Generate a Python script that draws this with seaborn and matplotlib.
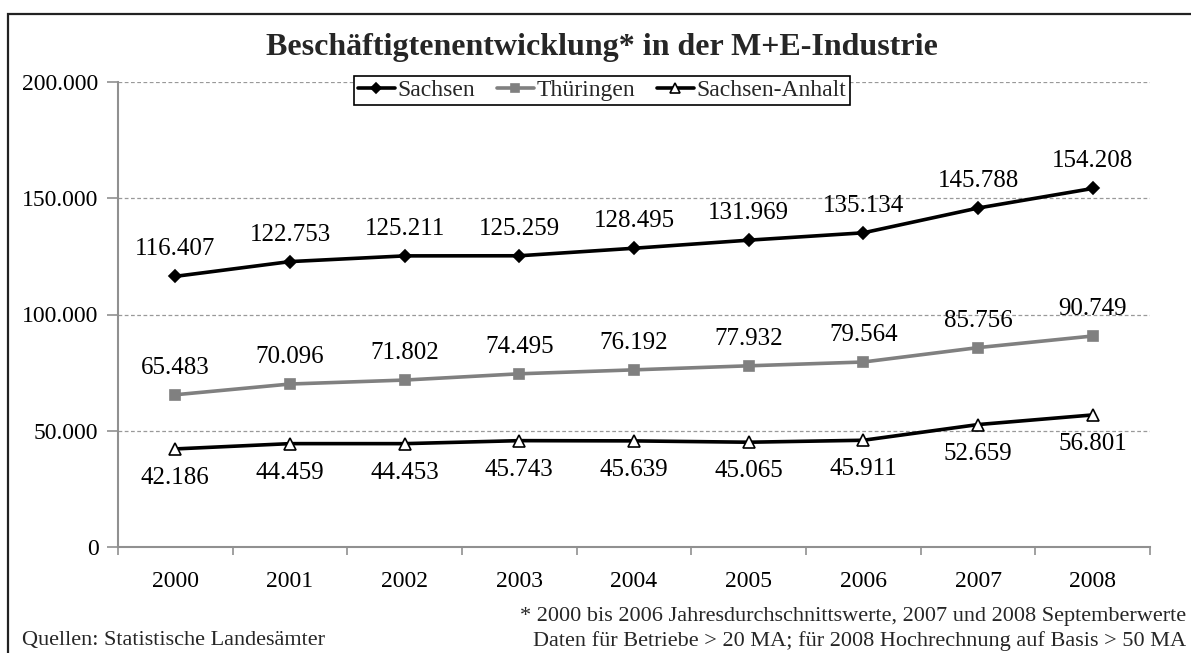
import matplotlib
matplotlib.use("Agg")
import matplotlib.pyplot as plt
import seaborn as sns
import pandas as pd
from matplotlib.patches import Rectangle
from matplotlib.lines import Line2D
from matplotlib.ticker import FuncFormatter, FixedLocator

years = ["2000", "2001", "2002", "2003", "2004", "2005", "2006", "2007", "2008"]
sachsen = [116407, 122753, 125211, 125259, 128495, 131969, 135134, 145788, 154208]
thueringen = [65483, 70096, 71802, 74495, 76192, 77932, 79564, 85756, 90749]
sachsen_anhalt = [42186, 44459, 44453, 45743, 45639, 45065, 45911, 52659, 56801]
series_names = ["Sachsen", "Thüringen", "Sachsen-Anhalt"]
y_ticks = [0, 50000, 100000, 150000, 200000]

# label placement (pixel offset from the marker, positive = above)
label_offset = {"Sachsen": 27, "Thüringen": 27, "Sachsen-Anhalt": -29}

title = "Beschäftigtenentwicklung* in der M+E-Industrie"
note1 = "* 2000 bis 2006 Jahresdurchschnittswerte, 2007 und 2008 Septemberwerte"
note2 = "Daten für Betriebe > 20 MA; für 2008 Hochrechnung auf Basis > 50 MA"
source = "Quellen: Statistische Landesämter"

sns.set_theme(style="white")
plt.rcParams["font.family"] = ["Liberation Serif", "DejaVu Serif"]

rows = []
for name, vals in zip(series_names, [sachsen, thueringen, sachsen_anhalt]):
    for i, v in enumerate(vals):
        rows.append({"pos": i, "year": years[i], "value": v, "series": name})
df = pd.DataFrame(rows)

fig = plt.figure(figsize=(11.91, 6.53), dpi=100)
ax = fig.add_axes([118 / 1191, 1 - 547 / 653, (1150 - 118) / 1191, (547 - 82) / 653])

styles = {
    "Sachsen": dict(color="black", marker="D", mfc="black", mec="black", ms=6.5),
    "Thüringen": dict(color="#808080", marker="s", mfc="#808080", mec="#808080", ms=7.5),
    "Sachsen-Anhalt": dict(color="black", marker="^", mfc="white", mec="black", ms=9),
}
palette = {k: v["color"] for k, v in styles.items()}

sns.lineplot(data=df, x="pos", y="value", hue="series", palette=palette,
             hue_order=series_names, ax=ax, linewidth=2.6, legend=False, sort=True)
for line, name in zip(ax.lines, series_names):
    st = styles[name]
    line.set_marker(st["marker"])
    line.set_markerfacecolor(st["mfc"])
    line.set_markeredgecolor(st["mec"])
    line.set_markersize(st["ms"])
    line.set_markeredgewidth(1.2)
    line.set_zorder(3)

# data labels
for name, vals in zip(series_names, [sachsen, thueringen, sachsen_anhalt]):
    for i, v in enumerate(vals):
        lab = f"{v:,}".replace(",", ".")
        ax.annotate(lab, (i, v), xytext=(0, label_offset[name]), textcoords="offset pixels",
                    ha="center", va="center", fontsize=18, color="black", zorder=4)

ax.set_xlim(-0.5, 8.5)
ax.set_ylim(0, 200000)
ax.set_yticks(y_ticks)
ax.yaxis.set_major_formatter(FuncFormatter(lambda v, p: "0" if v == 0 else f"{int(v):,}".replace(",", ".")))
ax.set_xticks(range(len(years)))
ax.set_xticklabels(years)
ax.xaxis.set_minor_locator(FixedLocator([k - 0.5 for k in range(len(years) + 1)]))
ax.tick_params(axis="x", which="major", length=0, pad=17, labelsize=17, colors="black")
ax.tick_params(axis="x", which="minor", length=6, width=1.2, color="#909090", direction="out", bottom=True)
ax.tick_params(axis="y", which="major", length=8, width=1.2, color="#909090", direction="out", left=True,
               pad=6, labelsize=17, labelcolor="black")
ax.set_xlabel("")
ax.set_ylabel("")

for sp in ["top", "right"]:
    ax.spines[sp].set_visible(False)
for sp in ["left", "bottom"]:
    ax.spines[sp].set_color("#909090")
    ax.spines[sp].set_linewidth(1.5)

for yv in y_ticks[1:]:
    ax.axhline(yv, color="#999999", linestyle=(0, (3, 2)), linewidth=0.9, zorder=1)

# legend
handles = []
for name in series_names:
    st = styles[name]
    handles.append(Line2D([], [], color=st["color"], marker=st["marker"], mfc=st["mfc"], mec=st["mec"],
                          ms=st["ms"] * 0.85, mew=1.2, linewidth=2.6))
leg = ax.legend(handles, series_names, loc="upper center", bbox_to_anchor=(0.469, 1.013), ncol=3,
                frameon=True, fancybox=False, edgecolor="black", framealpha=1, fontsize=17,
                handlelength=1.6, handletextpad=0.1, columnspacing=0.9, borderpad=0.15,
                borderaxespad=0)
leg.get_frame().set_linewidth(1.2)
leg.set_zorder(5)

fig.text(602 / 1191, 1 - 47 / 653, title, ha="center", va="center", fontsize=23, fontweight="bold")
fig.text(1186 / 1191, 1 - 616 / 653, note1, ha="right", va="center", fontsize=16)
fig.text(1186 / 1191, 1 - 641 / 653, note2, ha="right", va="center", fontsize=16)
fig.text(22 / 1191, 1 - 641 / 653, source, ha="left", va="center", fontsize=16)

# outer frame (top and left visible)
fig.patches.append(Rectangle((7.5 / 1191, -0.1), 1.2, 1 - 14 / 653 + 0.1, transform=fig.transFigure,
                             fill=False, edgecolor="#222222", linewidth=1.6, figure=fig))

fig.savefig("out.png", dpi=100)
